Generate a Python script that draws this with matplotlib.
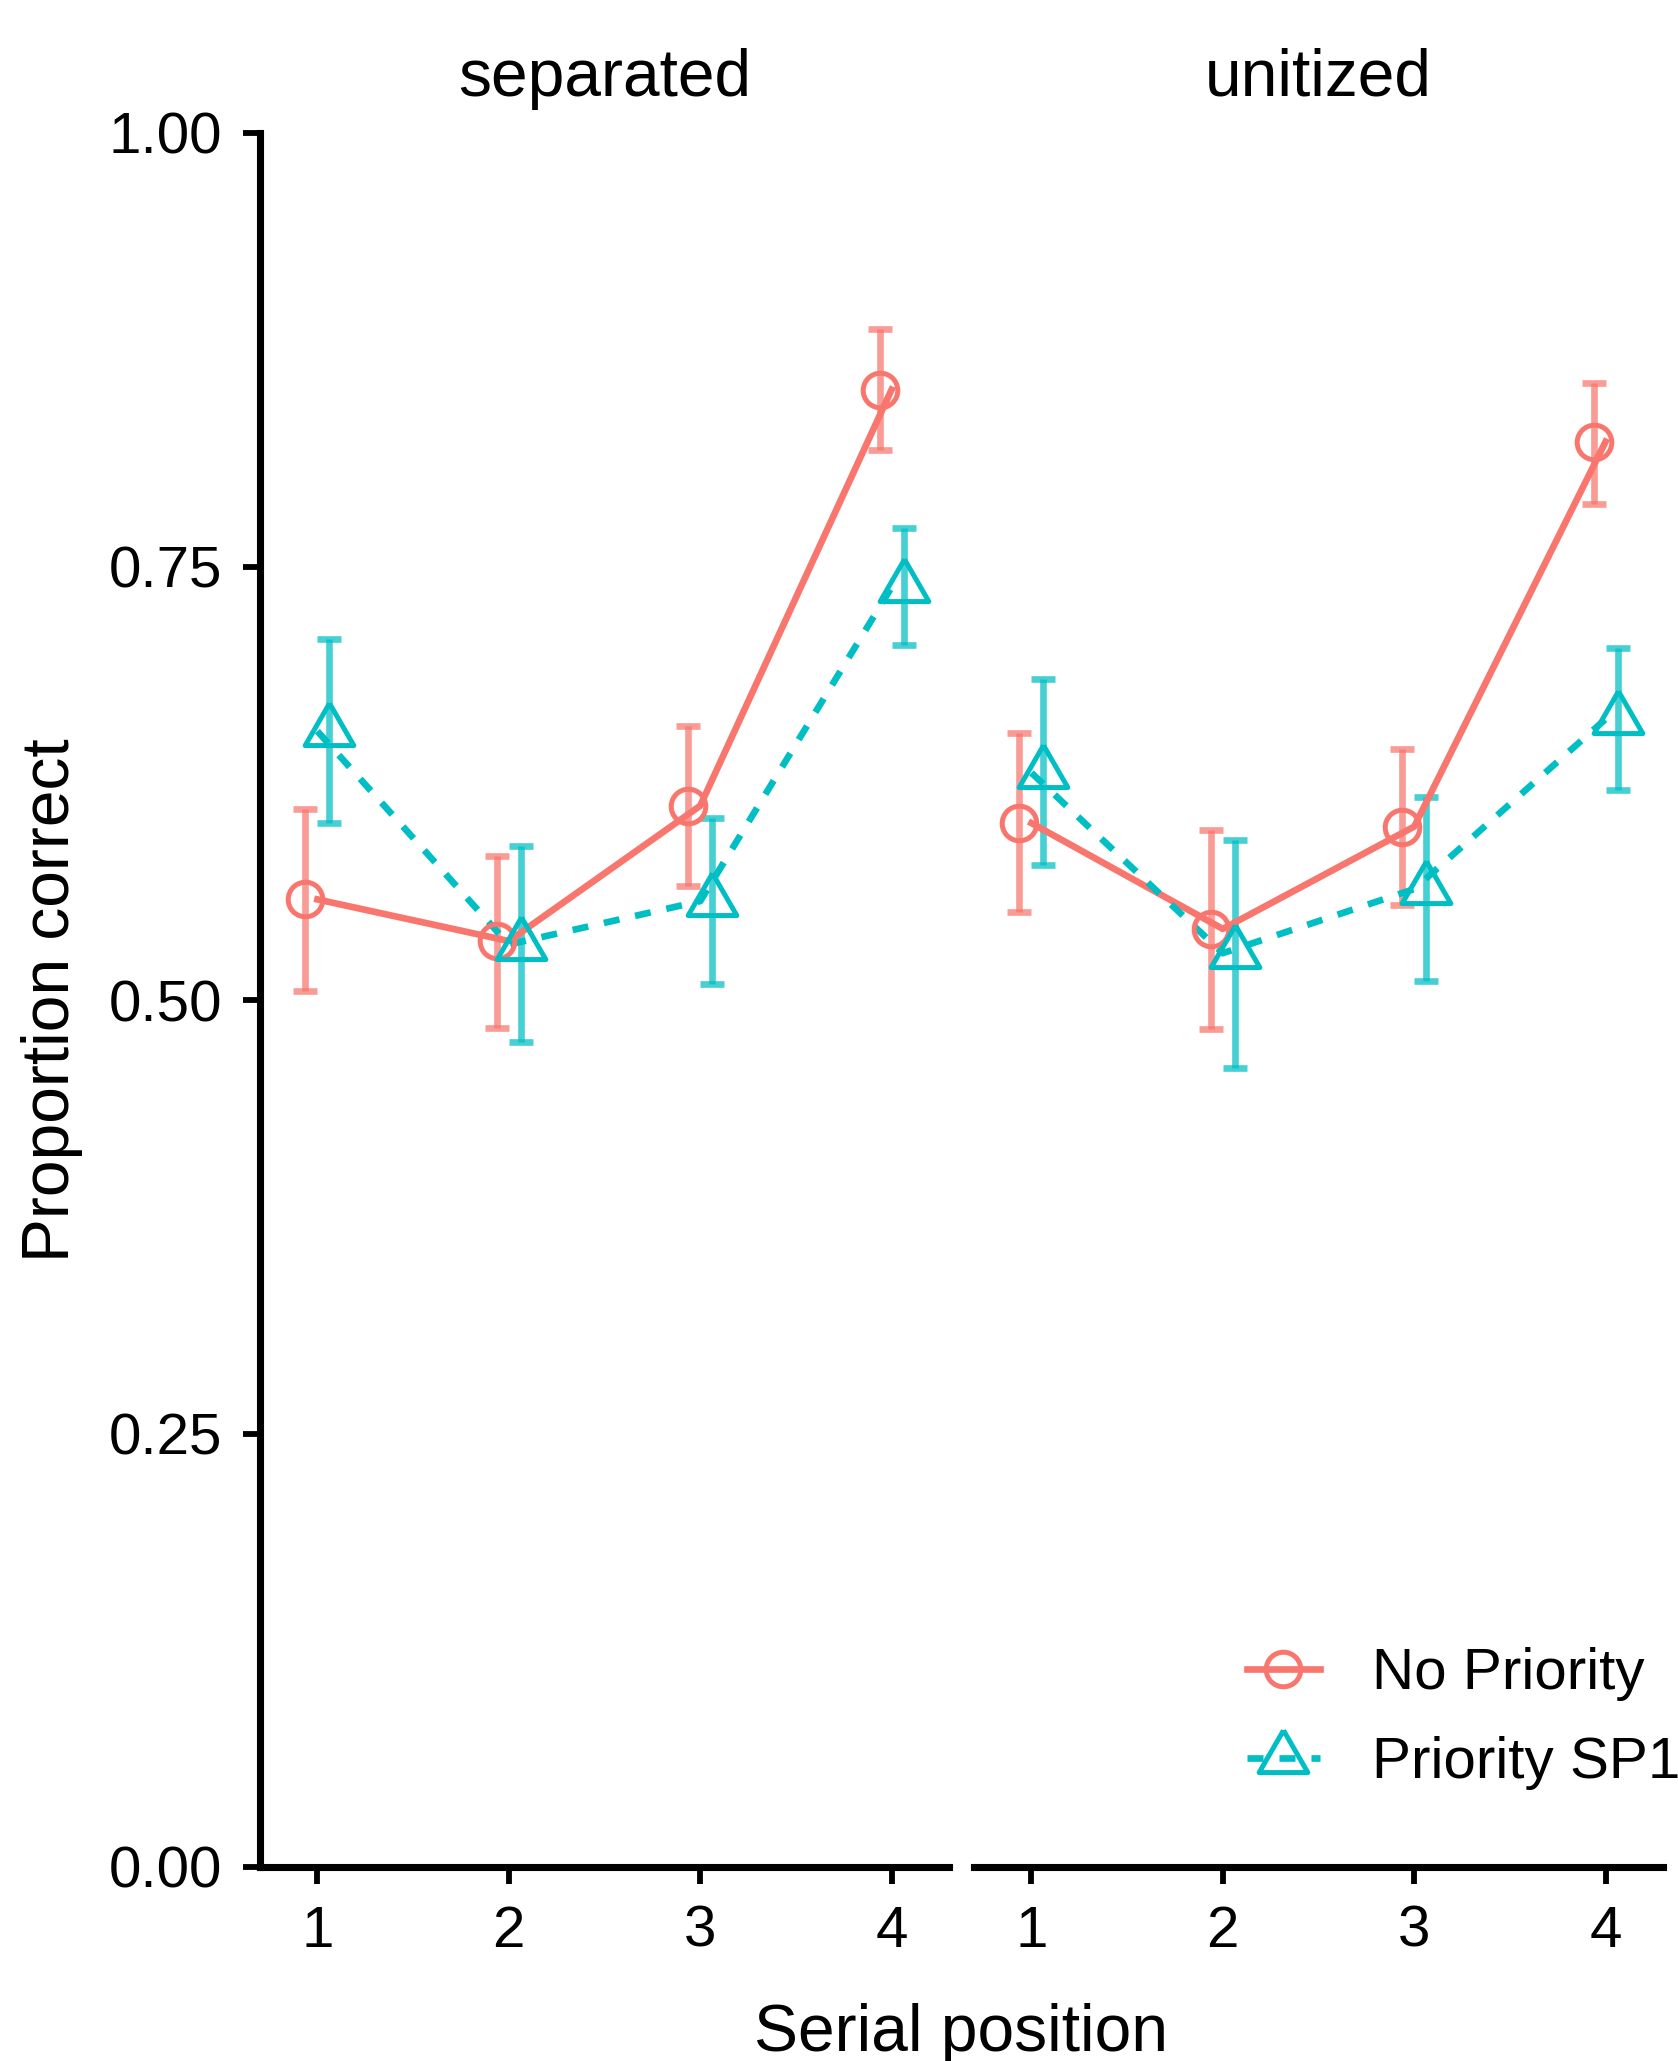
import matplotlib
matplotlib.use("Agg")
import matplotlib.pyplot as plt
from matplotlib.lines import Line2D
import numpy as np

plt.rcParams['font.family'] = ['Liberation Sans', 'DejaVu Sans']

## data
panels = ['separated', 'unitized']
positions = [1, 2, 3, 4]
conditions = ['No Priority', 'Priority SP1']

# No Priority, one row per panel
np_mean = [[0.558, 0.534, 0.612, 0.852], [0.602, 0.541, 0.600, 0.822]]
np_low = [[0.505, 0.484, 0.566, 0.817], [0.551, 0.483, 0.555, 0.786]]
np_high = [[0.610, 0.583, 0.658, 0.887], [0.654, 0.598, 0.645, 0.856]]

# Priority SP1
p1_mean = [[0.655, 0.532, 0.557, 0.738], [0.631, 0.527, 0.564, 0.662]]
p1_low = [[0.602, 0.476, 0.509, 0.705], [0.578, 0.461, 0.511, 0.621]]
p1_high = [[0.708, 0.589, 0.605, 0.772], [0.685, 0.592, 0.617, 0.703]]

yticks = [0.0, 0.25, 0.5, 0.75, 1.0]
ytick_labels = ['0.00', '0.25', '0.50', '0.75', '1.00']

red = '#F8766D'
teal = '#00BFC4'

# equilateral triangle like R's pch 2, centred on its centroid
tri = [(0, 1), (-0.866, -0.5), (0.866, -0.5), (0, 1)]

W, H = 1678, 2061
fig = plt.figure(figsize=(W / 300, H / 300), dpi=300)

ax_l = fig.add_axes([260 / W, 1 - 1867 / H, 689 / W, 1734 / H])
ax_r = fig.add_axes([974 / W, 1 - 1867 / H, 689 / W, 1734 / H])

dodge = 0.0625
lw = 1.6
dash = (0, (2.4, 2.4))
series = [
    (np_mean, np_low, np_high, red, 'o', 8.3, '-'),
    (p1_mean, p1_low, p1_high, teal, tri, 13.5, dash),
]

for i, ax in enumerate([ax_l, ax_r]):
    x = np.array(positions, dtype=float)
    for k, (m, lo, hi, col, mk, ms, ls) in enumerate(series):
        mean = np.array(m[i])
        err = [mean - np.array(lo[i]), np.array(hi[i]) - mean]
        xd = x + (-dodge if k == 0 else dodge)
        ax.errorbar(xd, mean, yerr=err, fmt='none', ecolor=col, alpha=0.72,
                    elinewidth=1.6, capsize=2.8, capthick=1.6, zorder=2)
        ax.plot(x, mean, color=col, lw=lw, linestyle=ls, zorder=3)
        ax.plot(xd, mean, linestyle='none', marker=mk, ms=ms, mfc='none',
                mec=col, mew=1.2, zorder=4)

    ax.set_xlim(0.70, 4.30)
    ax.set_ylim(0, 1)
    ax.set_xticks(positions)
    ax.set_xticklabels([str(p) for p in positions])
    for s in ['top', 'right']:
        ax.spines[s].set_visible(False)
    ax.spines['bottom'].set_linewidth(1.7)
    ax.spines['left'].set_linewidth(1.7)
    ax.tick_params(axis='both', labelsize=14, length=4.1, width=1.4,
                   pad=5, colors='black')
    ax.set_title(panels[i], fontsize=15.8, pad=9)
    ax.patch.set_alpha(0)

ax_l.set_yticks(yticks)
ax_l.set_yticklabels(ytick_labels)
ax_r.spines['left'].set_visible(False)
ax_r.tick_params(axis='y', left=False, labelleft=False)

fig.text(52 / W, 1 - 1000 / H, 'Proportion correct', rotation=90,
         ha='center', va='center', fontsize=15.8)
fig.text(961 / W, 1 - 2051 / H, 'Serial position', ha='center',
         va='baseline', fontsize=15.8)

handles = [
    Line2D([], [], color=red, lw=lw, marker='o', ms=8.3, mfc='none', mec=red, mew=1.2),
    Line2D([], [], color=teal, lw=lw, linestyle=dash, marker=tri, ms=13.5,
           mfc='none', mec=teal, mew=1.2),
]
fig.legend(handles, conditions, loc='upper left',
           bbox_to_anchor=(1247 / W, 1 - 1647 / H), frameon=False,
           fontsize=14, handlelength=1.25, handletextpad=0.9,
           labelspacing=0.6, borderpad=0, borderaxespad=0)

fig.savefig('out.png', dpi=300)
